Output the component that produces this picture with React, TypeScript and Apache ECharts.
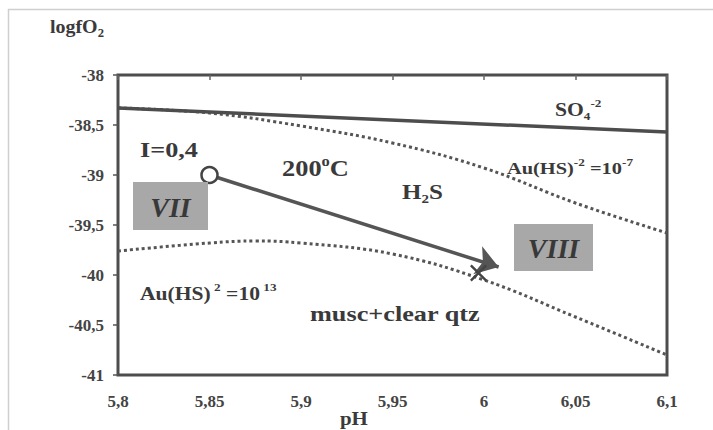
import React, { useEffect, useRef } from "react";
import * as echarts from "echarts";

const xTicks = { min: 5.8, max: 6.1, interval: 0.05 };
const yTicks = { min: -41, max: -38, interval: 0.5 };

// SO4(-2) / H2S boundary (solid)
const so4Line: [number, number][] = [
  [5.8, -38.33],
  [6.1, -38.57],
];
// Au(HS)2- = 1e-7 (dotted)
const auHigh: [number, number][] = [
  [5.8, -38.33],
  [5.85, -38.38],
  [5.9, -38.51],
  [5.95, -38.68],
  [6.0, -38.93],
  [6.05, -39.28],
  [6.1, -39.58],
];
// Au(HS)2- = 1e-13 (dotted)
const auLow: [number, number][] = [
  [5.8, -39.76],
  [5.85, -39.68],
  [5.875, -39.66],
  [5.9, -39.68],
  [5.95, -39.79],
  [6.0, -40.05],
  [6.05, -40.42],
  [6.1, -40.8],
];
// evolution path VII -> VIII
const pathStart: [number, number] = [5.85, -39.0];
const pathEnd: [number, number] = [6.008, -39.92];
const crossPoint: [number, number] = [5.997, -39.98];

const FONT = "Liberation Serif";
const TXT = "#3a3a3a";
const LINE = "#4d4d4d";

function rtext(x: number, y: number, text: string, size: number, scaleX = 1) {
  const small = Math.round(size * 0.62);
  return {
    type: "text",
    x,
    y,
    scaleX,
    z: 100,
    style: {
      text,
      fill: TXT,
      fontFamily: FONT,
      fontWeight: "bold",
      fontSize: size,
      align: "left",
      verticalAlign: "middle",
      rich: {
        n: { fontFamily: FONT, fontWeight: "bold", fontSize: size, lineHeight: size + 6, fill: TXT },
        sub: { fontFamily: FONT, fontWeight: "bold", fontSize: small, lineHeight: small, verticalAlign: "bottom", fill: TXT },
        sup: { fontFamily: FONT, fontWeight: "bold", fontSize: small, lineHeight: small, verticalAlign: "top", fill: TXT },
      },
    },
  };
}

function fmt(v: number) {
  return String(Number(v.toFixed(2))).replace(".", ",");
}

export default function App() {
  const ref = useRef<HTMLDivElement>(null);
  useEffect(() => {
    if (!ref.current) return;
    const chart = echarts.init(ref.current, null, { renderer: "svg" });
    const axisLabel = {
      fontFamily: FONT,
      fontWeight: "bold",
      fontSize: 17,
      color: "#444",
      formatter: (v: number) => fmt(v),
    };
    chart.setOption({
      animation: false,
      backgroundColor: "#ffffff",
      textStyle: { fontFamily: FONT },
      grid: {
        left: 118,
        top: 75,
        width: 549,
        height: 300,
        show: true,
        borderColor: LINE,
        borderWidth: 3,
        backgroundColor: "transparent",
      },
      xAxis: [
        {
          type: "value",
          ...xTicks,
          axisLine: { show: false },
          axisTick: { show: false },
          splitLine: { show: false },
          axisLabel: { ...axisLabel, margin: 18 },
        },
        {
          type: "value",
          position: "top",
          ...xTicks,
          axisLine: { show: false },
          axisTick: { show: true, inside: true, length: 5, lineStyle: { color: "#666", width: 1.5 } },
          splitLine: { show: false },
          axisLabel: { show: false },
        },
      ],
      yAxis: {
        type: "value",
        ...yTicks,
        axisLine: { show: false },
        axisTick: { show: true, length: 5, lineStyle: { color: "#555", width: 1.5 } },
        splitLine: { show: false },
        axisLabel: { ...axisLabel, margin: 14 },
      },
      series: [
        {
          type: "line",
          data: auHigh,
          smooth: 0.4,
          symbol: "none",
          lineStyle: { color: "#555", width: 3, type: [3, 3] },
          z: 2,
        },
        {
          type: "line",
          data: auLow,
          smooth: 0.4,
          symbol: "none",
          lineStyle: { color: "#555", width: 3, type: [3, 3] },
          z: 2,
        },
        {
          type: "line",
          data: so4Line,
          symbol: "none",
          lineStyle: { color: LINE, width: 3.5 },
          z: 3,
        },
        {
          type: "lines",
          coordinateSystem: "cartesian2d",
          symbol: ["none", "arrow"],
          symbolSize: 22,
          lineStyle: { color: "#555", width: 3.5, opacity: 1 },
          data: [{ coords: [pathStart, pathEnd] }],
          z: 4,
        },
        {
          type: "scatter",
          data: [crossPoint],
          symbol:
            "path://M0,2 L2,0 L10,8 L18,0 L20,2 L12,10 L20,18 L18,20 L10,12 L2,20 L0,18 L8,10 Z",
          symbolSize: 17,
          itemStyle: { color: "#444", opacity: 1 },
          z: 5,
        },
        {
          type: "scatter",
          data: [pathStart],
          symbol: "circle",
          symbolSize: 16,
          itemStyle: { color: "#ffffff", borderColor: "#444", borderWidth: 2.5, opacity: 1 },
          z: 6,
        },
      ],
      graphic: [
        { type: "line", shape: { x1: 8, y1: 9.5, x2: 713, y2: 9.5 }, style: { stroke: "#cfcfcf", lineWidth: 1.5 } },
        { type: "line", shape: { x1: 8.5, y1: 9, x2: 8.5, y2: 430 }, style: { stroke: "#cfcfcf", lineWidth: 1.5 } },
        { type: "rect", shape: { x: 133, y: 182, width: 75, height: 48 }, style: { fill: "#a8a8a8" }, z: 50 },
        { type: "rect", shape: { x: 514, y: 224, width: 79, height: 47 }, style: { fill: "#a8a8a8" }, z: 50 },
        {
          type: "text",
          x: 170.5,
          y: 207,
          z: 100,
          style: { text: "VII", fill: "#383838", fontFamily: FONT, fontWeight: "bold", fontStyle: "italic", fontSize: 28, align: "center", verticalAlign: "middle" },
        },
        {
          type: "text",
          x: 553.5,
          y: 248,
          z: 100,
          style: { text: "VIII", fill: "#383838", fontFamily: FONT, fontWeight: "bold", fontStyle: "italic", fontSize: 28, align: "center", verticalAlign: "middle" },
        },
        rtext(50, 27, "{n|logfO}{sub|2}", 19, 1.05),
        rtext(140, 150, "{n|I=0,4}", 21, 1.25),
        rtext(282, 168, "{n|200}{sup|o}{n|C}", 24, 1.1),
        rtext(402, 192, "{n|H}{sub|2}{n|S}", 20, 1.25),
        rtext(555, 110, "{n|SO}{sub|4}{sup|-2}", 18, 1.2),
        rtext(507, 168, "{n|Au(HS)}{sup|-2}{n| =10}{sup|-7}", 17, 1.2),
        rtext(140, 294, "{n|Au(HS)}{sup| 2}{n| =10}{sup| 13}", 18, 1.2),
        rtext(310, 314, "{n|musc+clear qtz}", 21, 1.25),
        rtext(340, 418, "{n|pH}", 19, 1.1),
      ],
    });
    return () => chart.dispose();
  }, []);
  return (
    <div
      ref={ref}
      style={{ position: "absolute", left: 0, top: 0, width: 713, height: 430, background: "#fff" }}
    />
  );
}
